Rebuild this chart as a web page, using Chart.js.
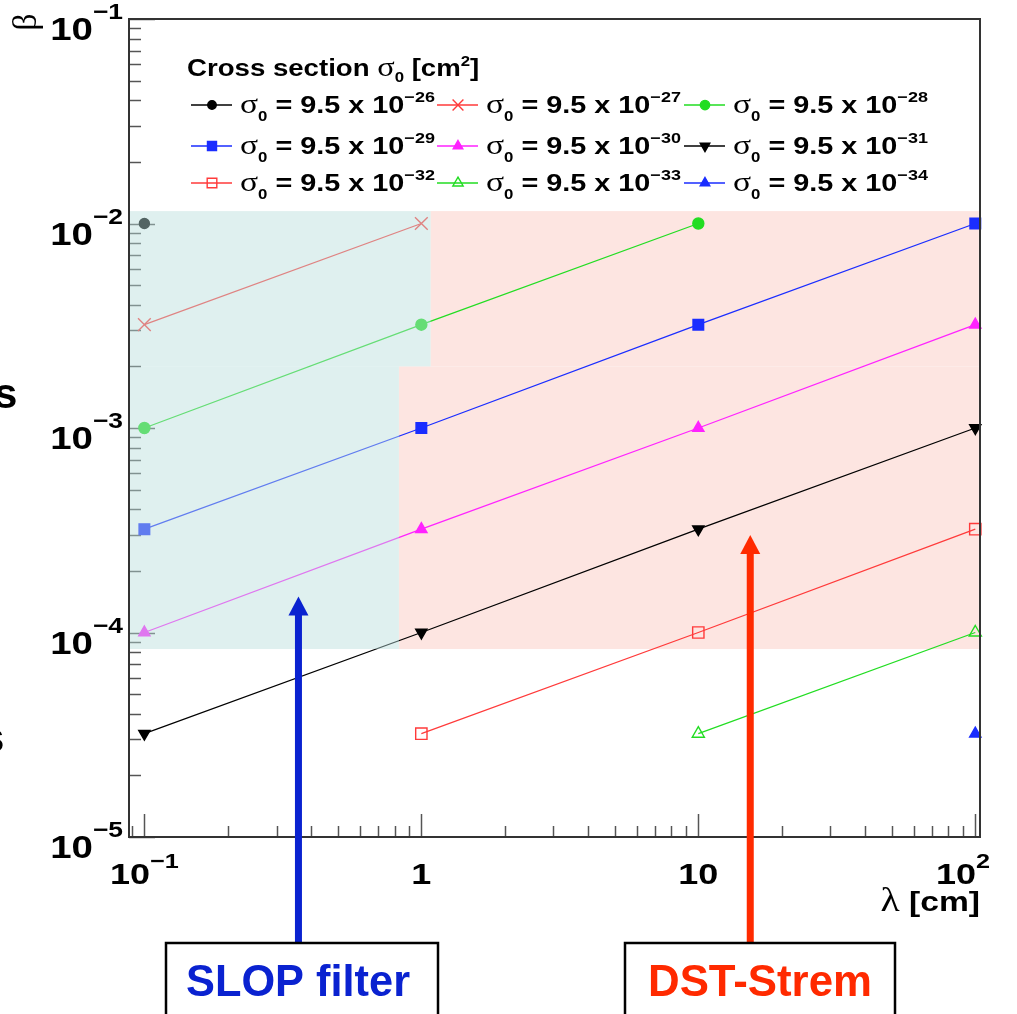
<!DOCTYPE html>
<html>
<head>
<meta charset="utf-8">
<script src="https://cdn.jsdelivr.net/npm/chart.js@4.4.0/dist/chart.umd.min.js"></script>
<style>
html, body { margin:0; padding:0; background:#fff; }
canvas { display:block; }
</style>
</head>
<body>
<canvas id="betaChart" width="1017" height="1014"></canvas>
<script>
// lambda [cm] where beta was computed
var lambdaCm = [0.1, 1, 10, 100];

// cross sections: 9.5 x 10^exp cm^2
var sigmaMantissa = '9.5';
var sigmaExp = [-26, -27, -28, -29, -30, -31, -32, -33, -34];

// beta for each sigma, one value per lambda (null = no point)
var beta26 = [1.0e-2, null, null, null];
var beta27 = [3.2e-3, 1.0e-2, null, null];
var beta28 = [1.0e-3, 3.2e-3, 1.0e-2, null];
var beta29 = [3.2e-4, 1.0e-3, 3.2e-3, 1.0e-2];
var beta30 = [1.0e-4, 3.2e-4, 1.0e-3, 3.2e-3];
var beta31 = [3.2e-5, 1.0e-4, 3.2e-4, 1.0e-3];
var beta32 = [null, 3.2e-5, 1.0e-4, 3.2e-4];
var beta33 = [null, null, 3.2e-5, 1.0e-4];
var beta34 = [null, null, null, 3.2e-5];

// tick labels
var xTickValues = [0.1, 1, 10, 100];
var xTickLabels = [['10', '\u22121'], ['1', ''], ['10', ''], ['10', '2']];
var yTickValues = [1e-1, 1e-2, 1e-3, 1e-4, 1e-5];
var yTickLabels = [['10', '\u22121'], ['10', '\u22122'], ['10', '\u22123'], ['10', '\u22124'], ['10', '\u22125']];

// shaded regions (lambda from, to, beta from, to)
var slopRegion = [[0.088, 0.83, 8.3e-5, 2.0e-3], [0.088, 1.08, 2.0e-3, 1.15e-2]];
var dstRegion = [[0.83, 103, 8.3e-5, 2.0e-3], [1.08, 103, 2.0e-3, 1.15e-2]];

// arrows: [lambda, beta at the tip]
var slopArrow = [0.36, 1.5e-4];
var dstArrow = [15.4, 3.0e-4];

var SANS = 'Liberation Sans';
var SERIF = 'Liberation Serif';
var SX = 1.2; // picture text is a bit wider than Liberation Sans

function makePoints(vals) {
  var pts = [];
  vals.forEach(function(v, i) { if (v != null) pts.push({x: lambdaCm[i], y: v}); });
  return pts;
}

function series(vals, color, style, radius, filled, rotation) {
  return {
    data: makePoints(vals),
    borderColor: color,
    backgroundColor: color,
    borderWidth: 1.3,
    pointStyle: style,
    pointRadius: radius,
    pointBorderWidth: 1.4,
    pointRotation: rotation || 0,
    pointBorderColor: color,
    pointBackgroundColor: filled ? color : 'rgba(0,0,0,0)',
    clip: false,
    fill: false
  };
}

var datasets = [
  series(beta26, '#000000', 'circle', 5, true),
  series(beta27, '#ff3a3a', 'crossRot', 9, false),
  series(beta28, '#22dd22', 'circle', 5.5, true),
  series(beta29, '#1a2dff', 'rect', 7.5, true),
  series(beta30, '#ff22ff', 'triangle', 6.5, true),
  series(beta31, '#000000', 'triangle', 6.5, true, 180),
  series(beta32, '#ff3a3a', 'rect', 8, false),
  series(beta33, '#22dd22', 'triangle', 7, false),
  series(beta34, '#1a2dff', 'triangle', 6.5, true)
];

function textWidth(ctx, parts) {
  var w = 0;
  parts.forEach(function(p) { ctx.font = p[1]; w += ctx.measureText(p[0]).width * SX; });
  return w;
}

function richText(ctx, parts, x, y, align) {
  var w = textWidth(ctx, parts);
  var cx = align == 'right' ? x - w : (align == 'center' ? x - w / 2 : x);
  ctx.textAlign = 'left';
  ctx.textBaseline = 'alphabetic';
  parts.forEach(function(p) {
    ctx.font = p[1];
    var pw = ctx.measureText(p[0]).width * SX;
    ctx.save();
    ctx.translate(cx, y + (p[2] || 0));
    ctx.scale(SX, 1);
    ctx.fillText(p[0], 0, 0);
    ctx.restore();
    cx += pw;
  });
}

function line(ctx, x1, y1, x2, y2) {
  ctx.beginPath(); ctx.moveTo(x1, y1); ctx.lineTo(x2, y2); ctx.stroke();
}

function fillRegion(ctx, chart, r) {
  var xs = chart.scales.x, ys = chart.scales.y;
  var x1 = xs.getPixelForValue(r[0]), x2 = xs.getPixelForValue(r[1]);
  var y1 = ys.getPixelForValue(r[3]), y2 = ys.getPixelForValue(r[2]);
  ctx.fillRect(x1, y1, x2 - x1, y2 - y1);
}

function arrow(ctx, x, yTip, yTail, color) {
  ctx.fillStyle = color;
  ctx.fillRect(x - 3.5, yTip + 17, 7, yTail - yTip - 17);
  ctx.beginPath();
  ctx.moveTo(x, yTip);
  ctx.lineTo(x + 10, yTip + 19);
  ctx.lineTo(x - 10, yTip + 19);
  ctx.closePath();
  ctx.fill();
}

var rootLook = {
  id: 'rootLook',
  beforeDatasetsDraw: function(chart) {
    var ctx = chart.ctx, a = chart.chartArea, xs = chart.scales.x, ys = chart.scales.y;
    ctx.save();
    ctx.fillStyle = '#fde5e1';
    dstRegion.forEach(function(r) { fillRegion(ctx, chart, r); });
    // ROOT style ticks, pointing inside
    ctx.strokeStyle = '#555';
    ctx.lineWidth = 1.5;
    for (var e = -2; e <= 2; e++) {
      for (var m = 1; m <= 9; m++) {
        var v = m * Math.pow(10, e);
        if (v < xs.min || v > xs.max) continue;
        var px = Math.round(xs.getPixelForValue(v)) + 0.5;
        line(ctx, px, a.bottom, px, a.bottom - (m == 1 ? 23 : 11));
      }
    }
    for (var e = -5; e <= -1; e++) {
      for (var m = 1; m <= 9; m++) {
        var v = m * Math.pow(10, e);
        if (v < ys.min || v > ys.max * 1.0001) continue;
        var py = Math.round(ys.getPixelForValue(v)) + 0.5;
        line(ctx, a.left, py, a.left + (m == 1 ? 26 : 12), py);
      }
    }
    ctx.restore();
  },
  afterDatasetsDraw: function(chart) {
    var ctx = chart.ctx, a = chart.chartArea, xs = chart.scales.x, ys = chart.scales.y;
    ctx.save();
    // SLOP region sits over the lines
    ctx.fillStyle = 'rgba(184,222,219,0.45)';
    slopRegion.forEach(function(r) { fillRegion(ctx, chart, r); });

    // frame
    ctx.strokeStyle = '#333';
    ctx.lineWidth = 2;
    ctx.strokeRect(a.left, a.top, a.right - a.left, a.bottom - a.top);

    // tick labels
    ctx.fillStyle = '#000';
    xTickValues.forEach(function(v, i) {
      var px = xs.getPixelForValue(v);
      var lb = xTickLabels[i];
      var parts = [[lb[0], 'bold 30px ' + SANS], [lb[1], 'bold 21px ' + SANS, -16]];
      var w = textWidth(ctx, parts);
      if (px + w / 2 > a.right + 10) px = a.right + 10 - w / 2; // keep last label near the frame
      richText(ctx, parts, px, a.bottom + 47, 'center');
    });
    yTickValues.forEach(function(v, i) {
      var py = ys.getPixelForValue(v);
      var lb = yTickLabels[i];
      richText(ctx, [[lb[0], 'bold 32px ' + SANS], [lb[1], 'bold 22px ' + SANS, -21]], a.left - 6, py + 21, 'right');
    });

    // axis titles
    richText(ctx, [['\u03bb', '33px ' + SERIF], [' [cm]', 'bold 28px ' + SANS]], a.right, a.bottom + 74, 'right');
    ctx.save();
    ctx.translate(27, 22);
    ctx.rotate(-Math.PI / 2);
    ctx.textAlign = 'center';
    ctx.textBaseline = 'middle';
    ctx.font = '34px ' + SERIF;
    ctx.fillText('\u03b2', 0, 0);
    ctx.restore();

    // legend
    ctx.fillStyle = '#000';
    richText(ctx, [['Cross section ', 'bold 23px ' + SANS], ['\u03c3', '27px ' + SERIF],
      ['0', 'bold 14px ' + SANS, 6], [' [cm', 'bold 23px ' + SANS], ['2', 'bold 14px ' + SANS, -10],
      [']', 'bold 23px ' + SANS]], 187, 76);
    var cols = [191, 437, 684], rows = [105, 146, 183];
    sigmaExp.forEach(function(ex, i) {
      var ds = chart.data.datasets[i];
      var lx = cols[i % 3], ly = rows[Math.floor(i / 3)];
      ctx.strokeStyle = ds.borderColor;
      ctx.lineWidth = 1.3;
      line(ctx, lx, ly, lx + 41, ly);
      ctx.fillStyle = ds.pointBackgroundColor;
      ctx.strokeStyle = ds.pointBorderColor;
      ctx.lineWidth = ds.pointBorderWidth;
      Chart.helpers.drawPoint(ctx, {pointStyle: ds.pointStyle, rotation: ds.pointRotation,
        radius: ds.pointRadius * 0.85, borderWidth: ds.pointBorderWidth}, lx + 21, ly);
      ctx.fillStyle = '#000';
      richText(ctx, [['\u03c3', '28px ' + SERIF], ['0', 'bold 14px ' + SANS, 8],
        [' = ' + sigmaMantissa + ' x 10', 'bold 24px ' + SANS],
        [String(ex).replace('-', '\u2212'), 'bold 15px ' + SANS, -11]], lx + 49, ly + 8);
    });

    // arrows and boxes under the plot
    var bx = xs.getPixelForValue(slopArrow[0]), rx = xs.getPixelForValue(dstArrow[0]);
    arrow(ctx, bx, ys.getPixelForValue(slopArrow[1]), 944, '#0a22d0');
    arrow(ctx, rx, ys.getPixelForValue(dstArrow[1]), 944, '#ff2a00');
    ctx.strokeStyle = '#000';
    ctx.lineWidth = 2.5;
    ctx.strokeRect(166, 943, 272, 100);
    ctx.strokeRect(625, 943, 270, 100);
    ctx.textAlign = 'center';
    ctx.textBaseline = 'alphabetic';
    ctx.font = 'bold 45px ' + SANS;
    ctx.fillStyle = '#0a22d0';
    ctx.fillText('SLOP filter', 298, 996, 224);
    ctx.fillStyle = '#ff2a00';
    ctx.fillText('DST-Strem', 760, 996, 224);

    // bits of slide text cut at the left edge
    ctx.fillStyle = '#000';
    ctx.textAlign = 'left';
    ctx.font = 'bold 42px ' + SANS;
    ctx.fillText('s', -6, 408);
    ctx.fillText('s', -19, 752);
    ctx.restore();
  }
};

new Chart(document.getElementById('betaChart'), {
  type: 'line',
  data: {datasets: datasets},
  options: {
    responsive: false,
    animation: false,
    devicePixelRatio: 1,
    layout: {padding: {left: 129, top: 19, right: 37, bottom: 177}},
    scales: {
      x: {type: 'logarithmic', min: 0.088, max: 104, bounds: 'data', display: false},
      y: {type: 'logarithmic', min: 1e-5, max: 1e-1, bounds: 'data', display: false}
    },
    plugins: {legend: {display: false}, title: {display: false}, tooltip: {enabled: false}}
  },
  plugins: [rootLook]
});
</script>
</body>
</html>
